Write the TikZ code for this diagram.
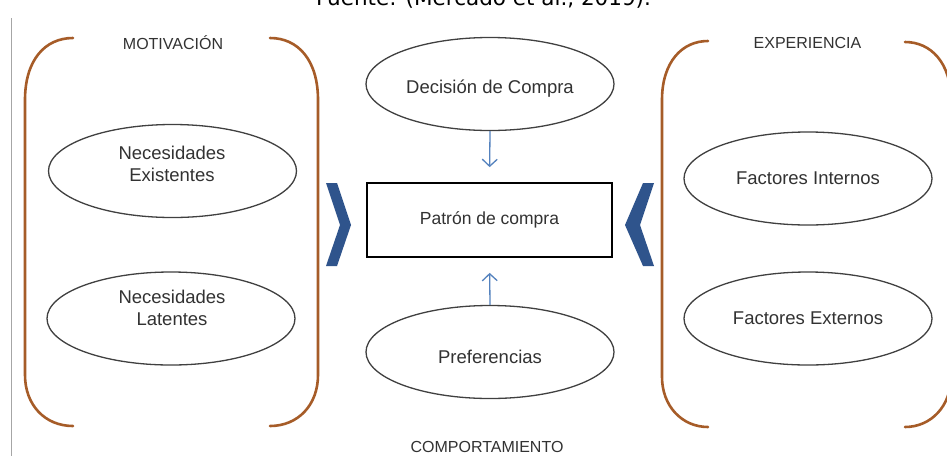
\documentclass[tikz,border=0pt]{standalone}
\usepackage{fontspec}
\setmainfont{Liberation Sans}
\newfontfamily\captionfont{DejaVu Sans}
\usetikzlibrary{shapes.geometric,arrows.meta}
\definecolor{bracketbrown}{RGB}{166,92,40}
\definecolor{chevblue}{RGB}{47,84,140}
\definecolor{arrowblue}{RGB}{84,130,190}
\definecolor{txtgray}{RGB}{50,50,50}
\begin{document}
\begin{tikzpicture}[x=1pt,y=-1pt,
 bubble/.style={ellipse,draw=black!75,line width=1.3pt,inner sep=0pt,minimum width=248pt,minimum height=93pt},
 lbl/.style={font=\fontsize{18.5}{22}\selectfont,text=txtgray,align=center},
 caplbl/.style={font=\fontsize{16}{19}\selectfont,text=txtgray},
 brk/.style={draw=bracketbrown,line width=2.6pt,line cap=round},
 chev/.style={fill=chevblue},
 flow/.style={draw=arrowblue,line width=1.3pt,-{Straight Barb[length=7pt,width=15pt]}},
]
\clip (0,0) rectangle (947,456);
\fill[white] (0,0) rectangle (947,456);
\node[font=\captionfont\fontsize{21.5}{24}\selectfont,anchor=base,inner sep=0pt] (fuente) at (483.5,5) {Fuente: (Mercado et al., 2019).};
\draw[black!35,line width=1pt] (11,18) -- (11,456);

% brackets
\draw[brk] (73,38) .. controls (45,38) and (25,60) .. (25,100) -- (25,375) .. controls (25,405) and (45,426) .. (73,426);
\draw[brk] (270,38) .. controls (298,38) and (318,60) .. (318,100) -- (318,375) .. controls (318,405) and (298,426) .. (270,426);
\draw[brk] (708,41) .. controls (682,41) and (662,62) .. (662,100) -- (662,377) .. controls (662,406) and (682,427) .. (708,427);
\draw[brk] (905,42) .. controls (931,42) and (951,63) .. (951,100) -- (951,377) .. controls (951,406) and (931,427) .. (905,427);

% section labels
\node[caplbl] (motiv) at (173,43) {MOTIVACIÓN};
\node[caplbl] (exper) at (807.5,43) {EXPERIENCIA};
\node[caplbl] (compor) at (487,447) {COMPORTAMIENTO};

% ellipses
\node[bubble] (ne) at (172.5,171) {};
\node[bubble] (nl) at (171,318.5) {};
\node[bubble] (dc) at (490,84) {};
\node[bubble] (pref) at (490,352) {};
\node[bubble] (fi) at (808,178.5) {};
\node[bubble] (fe) at (808,318.5) {};

\node[lbl] (tne) at (172,164) {Necesidades\\Existentes};
\node[lbl] (tnl) at (172,307.5) {Necesidades\\Latentes};
\node[lbl] (tdc) at (490,89) {Decisión de Compra};
\node[lbl] (tpref) at (490,357) {Preferencias};
\node[lbl] (tfi) at (808,178) {Factores Internos};
\node[lbl] (tfe) at (808,318) {Factores Externos};

% central box
\node[draw=black,line width=1.8pt,minimum width=245pt,minimum height=74pt,inner sep=0pt,
      font=\fontsize{17.5}{21}\selectfont,text=txtgray] (pc) at (489.5,220) {Patrón de compra};

% arrows
\draw[flow,shorten >=15pt] (dc.south) -- (pc.north);
\draw[flow,shorten >=15pt] (pref.north) -- (pc.south);

% chevrons
\fill[chev] (326,183) -- (337,183) -- (351,225) -- (337,266) -- (326,266) -- (340,225) -- cycle;
\fill[chev] (654,183) -- (643,183) -- (625,225) -- (643,266) -- (654,266) -- (640,225) -- cycle;
\end{tikzpicture}
\end{document}
